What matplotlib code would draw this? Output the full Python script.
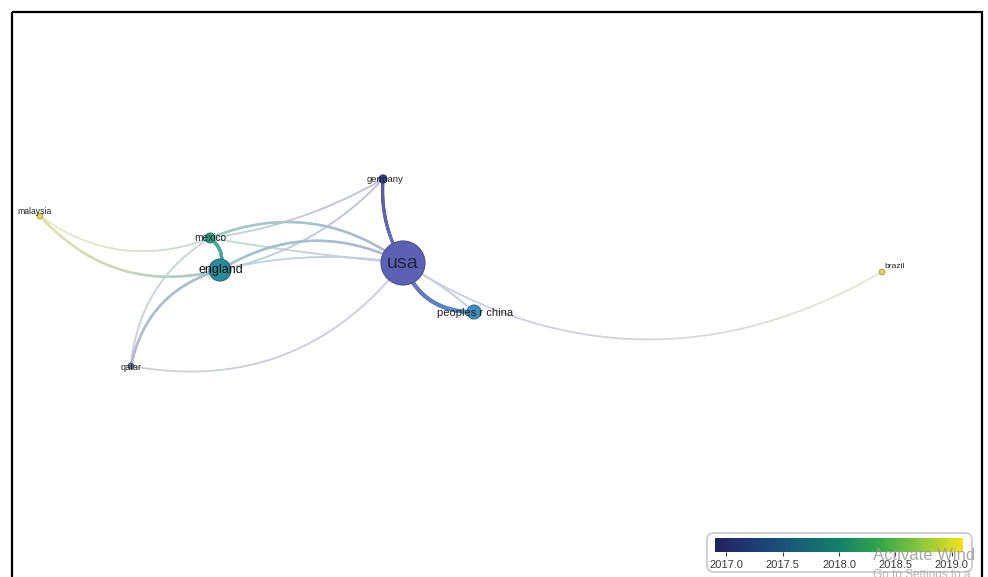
import numpy as np
import matplotlib
matplotlib.use("Agg")
import matplotlib.pyplot as plt
from matplotlib.collections import LineCollection
from matplotlib.patches import Circle, FancyBboxPatch, Rectangle
from matplotlib import colors as mcolors
from matplotlib.cm import ScalarMappable

plt.rcParams["font.family"] = ["Liberation Sans", "DejaVu Sans"]

# ---- network data -------------------------------------------------------
countries = ["usa", "england", "peoples r china", "mexico",
             "germany", "malaysia", "qatar", "brazil"]
documents = [60, 15, 6, 3, 2, 1, 1, 1]

edge_source = ["germany", "usa", "usa", "usa", "mexico", "england",
               "mexico", "england", "germany", "germany", "malaysia",
               "malaysia", "mexico", "qatar", "qatar", "qatar"]
edge_target = ["usa", "peoples r china", "peoples r china", "brazil", "usa",
               "usa", "usa", "usa", "mexico", "england", "mexico",
               "england", "england", "england", "mexico", "usa"]
edge_weight = [3, 4, 1, 1, 2, 2, 1, 1, 1, 1, 1, 2, 3, 2, 1, 1]

year_min, year_max = 2016.9, 2019.1
year_ticks = [2017.0, 2017.5, 2018.0, 2018.5, 2019.0]

# ---- layout and style ---------------------------------------------------
W, H = 988, 577
layout = {
    "usa": (403, 263), "england": (220, 270), "peoples r china": (474, 312),
    "mexico": (210, 238), "germany": (383, 179), "malaysia": (40, 216),
    "qatar": (131, 366), "brazil": (882, 272),
}
node_color = {
    "usa": "#5d61b3", "england": "#2b8a99", "peoples r china": "#3f8dc0",
    "mexico": "#2f9e82", "germany": "#3a3a8e", "malaysia": "#e3dc4a",
    "qatar": "#6a6f98", "brazil": "#d8d66a",
}
label_style = {
    "usa": dict(dx=0, dy=1, size=14, color="#22243f"),
    "england": dict(dx=1, dy=0, size=9, color="#111111"),
    "peoples r china": dict(dx=1, dy=1, size=8, color="#222222"),
    "mexico": dict(dx=0, dy=0, size=7.3, color="#222222"),
    "germany": dict(dx=2, dy=0, size=6.8, color="#222222"),
    "malaysia": dict(dx=-5, dy=-4, size=6.2, color="#222222"),
    "qatar": dict(dx=0, dy=1, size=6.6, color="#222222"),
    "brazil": dict(dx=13, dy=-6, size=6, color="#222222"),
}
edge_curv = [0.16, 0.35, -0.06, 0.30, -0.28, -0.28, 0.02, -0.10,
             -0.10, -0.16, 0.27, 0.30, -0.35, -0.30, -0.25, 0.30]

# year scale: navy -> teal -> green -> yellow
year_cmap = mcolors.LinearSegmentedColormap.from_list(
    "year", ["#23205f", "#1d3f78", "#175f77", "#12806a", "#35a64a",
             "#8cc63c", "#f2e21c"])

fig = plt.figure(figsize=(W / 100, H / 100), dpi=100)
ax = fig.add_axes([0, 0, 1, 1])
ax.set_xlim(0, W)
ax.set_ylim(H, 0)
ax.set_aspect("equal")
ax.axis("off")


def bezier(p0, p2, curv, n=80):
    p0, p2 = np.asarray(p0, float), np.asarray(p2, float)
    d = p2 - p0
    length = np.hypot(*d)
    perp = np.array([-d[1], d[0]]) / length
    p1 = (p0 + p2) / 2 + perp * curv * length
    t = np.linspace(0, 1, n)[:, None]
    return (1 - t) ** 2 * p0 + 2 * (1 - t) * t * p1 + t ** 2 * p2


white = np.ones(3)
grey = np.array([0.72, 0.74, 0.78])
order = np.argsort(edge_weight, kind="stable")
for i in order:
    s, t_, w = edge_source[i], edge_target[i], edge_weight[i]
    pts = bezier(layout[s], layout[t_], edge_curv[i])
    segs = np.stack([pts[:-1], pts[1:]], axis=1)
    c0 = np.array(mcolors.to_rgb(node_color[s]))
    c1 = np.array(mcolors.to_rgb(node_color[t_]))
    tt = np.linspace(0, 1, len(segs))[:, None] ** 1.6
    cols = (1 - tt) * c0 + tt * c1
    strength = min(0.24 + 0.2 * w, 0.9)
    muted = 0.55 * cols + 0.45 * grey if w < 3 else cols
    cols = muted * strength + white * (1 - strength)
    lc = LineCollection(segs, colors=cols, linewidths=0.7 + 0.55 * w,
                        capstyle="round", zorder=1)
    ax.add_collection(lc)

# nodes
max_docs = max(documents)
for name, docs in zip(countries, documents):
    r = 22 * np.sqrt(docs / max_docs)
    r = max(r, 2.2)
    col = mcolors.to_rgb(node_color[name])
    rim = tuple(np.array(col) * 0.8)
    ax.add_patch(Circle(layout[name], r, facecolor=col, edgecolor=rim,
                        lw=0.8, zorder=3))

# labels
for name in countries:
    st = label_style[name]
    x, y = layout[name]
    ax.text(x + st["dx"], y + st["dy"], name, fontsize=st["size"],
            color=st["color"], ha="center", va="center", zorder=4)

# outer frame
ax.add_patch(Rectangle((12, 12), 970, 640, fill=False, edgecolor="black",
                       lw=1.6, zorder=6, clip_on=False))

# colour legend box
ax.add_patch(FancyBboxPatch((707, 533), 265, 39,
                            boxstyle="round,pad=0,rounding_size=7",
                            facecolor="white", edgecolor="#cfcfcf",
                            lw=1.4, zorder=5))
cax = fig.add_axes([715 / W, 1 - 552 / H, 248 / W, 14 / H])
cax.set_zorder(7)
sm = ScalarMappable(norm=mcolors.Normalize(year_min, year_max), cmap=year_cmap)
cb = fig.colorbar(sm, cax=cax, orientation="horizontal")
cb.set_ticks(year_ticks)
cb.set_ticklabels([f"{v:.1f}" for v in year_ticks])
cb.outline.set_visible(False)
cax.tick_params(axis="x", labelsize=8, colors="#3a3a3a", length=3,
                width=0.8, pad=3)

# system overlay text in the lower right corner
fig.text(873 / W, 1 - 556 / H, "Activate Wind", fontsize=12,
         color="#9a9a9a", ha="left", va="center", alpha=0.85, zorder=10)
fig.text(873 / W, 1 - 575 / H, "Go to Settings to a", fontsize=8.5,
         color="#a8a8a8", ha="left", va="center", alpha=0.85, zorder=10)

fig.savefig("out.png", dpi=100)
